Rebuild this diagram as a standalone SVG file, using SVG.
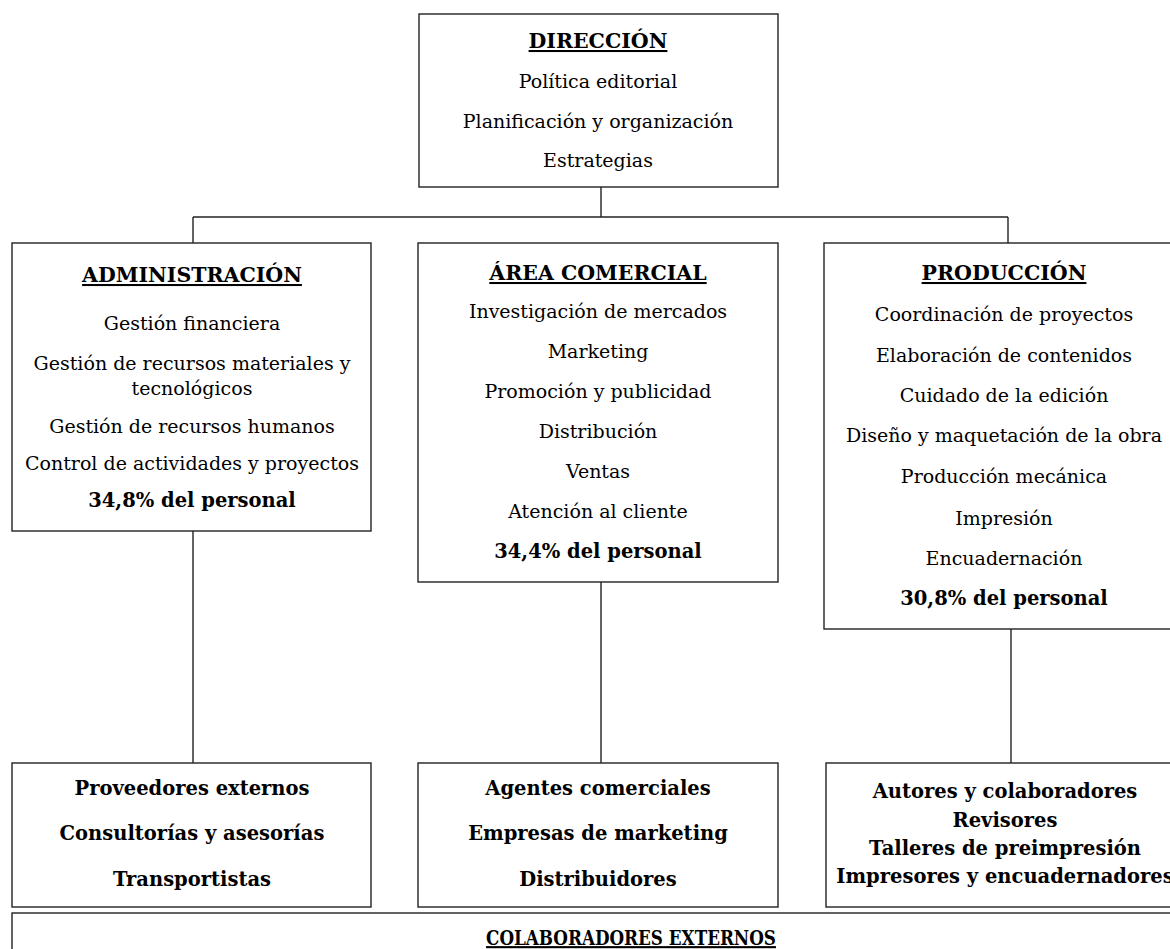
<svg xmlns="http://www.w3.org/2000/svg" width="1170" height="949" viewBox="0 0 1170 949">
<style>
rect{fill:#fff;stroke:#222;stroke-width:1.4}
.c line{stroke:#222;stroke-width:1.4}
text{font-family:"DejaVu Serif","Liberation Serif",serif;font-size:19px;fill:#000;text-anchor:middle}
.h{font-weight:bold;text-decoration:underline;font-size:20.5px}
.b{font-weight:bold;font-size:19.5px}
</style>
<rect width="1170" height="949" style="fill:#fff;stroke:none"/>
<g class="c">
<line x1="601" y1="187" x2="601" y2="217"/>
<line x1="193" y1="217" x2="1008" y2="217"/>
<line x1="193" y1="217" x2="193" y2="243"/>
<line x1="1008" y1="217" x2="1008" y2="243"/>
<line x1="193" y1="531" x2="193" y2="763"/>
<line x1="601" y1="582" x2="601" y2="763"/>
<line x1="1011" y1="629" x2="1011" y2="763"/>
</g>
<g id="direccion">
<rect x="419" y="14" width="359" height="173"/>
<text x="598" y="48" class="h">DIRECCIÓN</text>
<text x="598" y="88">Política editorial</text>
<text x="598" y="128">Planificación y organización</text>
<text x="598" y="167">Estrategias</text>
</g>
<g id="administracion">
<rect x="12" y="243" width="359" height="288"/>
<text x="192" y="282" class="h">ADMINISTRACIÓN</text>
<text x="192" y="330">Gestión financiera</text>
<text x="192" y="370">Gestión de recursos materiales y</text>
<text x="192" y="395">tecnológicos</text>
<text x="192" y="433">Gestión de recursos humanos</text>
<text x="192" y="470">Control de actividades y proyectos</text>
<text x="192" y="507" class="b">34,8% del personal</text>
</g>
<g id="comercial">
<rect x="418" y="243" width="360" height="339"/>
<text x="598" y="280" class="h">ÁREA COMERCIAL</text>
<text x="598" y="318">Investigación de mercados</text>
<text x="598" y="358">Marketing</text>
<text x="598" y="398">Promoción y publicidad</text>
<text x="598" y="438">Distribución</text>
<text x="598" y="478">Ventas</text>
<text x="598" y="518">Atención al cliente</text>
<text x="598" y="558" class="b">34,4% del personal</text>
</g>
<g id="produccion">
<rect x="824" y="243" width="360" height="386"/>
<text x="1004" y="280" class="h">PRODUCCIÓN</text>
<text x="1004" y="321">Coordinación de proyectos</text>
<text x="1004" y="362">Elaboración de contenidos</text>
<text x="1004" y="402">Cuidado de la edición</text>
<text x="1004" y="442">Diseño y maquetación de la obra</text>
<text x="1004" y="483">Producción mecánica</text>
<text x="1004" y="525">Impresión</text>
<text x="1004" y="565">Encuadernación</text>
<text x="1004" y="605" class="b">30,8% del personal</text>
</g>
<g id="ext-admin">
<rect x="12" y="763" width="359" height="144"/>
<text x="192" y="795" class="b">Proveedores externos</text>
<text x="192" y="840" class="b">Consultorías y asesorías</text>
<text x="192" y="886" class="b">Transportistas</text>
</g>
<g id="ext-comercial">
<rect x="418" y="763" width="360" height="144"/>
<text x="598" y="795" class="b">Agentes comerciales</text>
<text x="598" y="840" class="b">Empresas de marketing</text>
<text x="598" y="886" class="b">Distribuidores</text>
</g>
<g id="ext-produccion">
<rect x="826" y="763" width="360" height="144"/>
<text x="1005" y="798" class="b">Autores y colaboradores</text>
<text x="1005" y="827" class="b">Revisores</text>
<text x="1005" y="855" class="b">Talleres de preimpresión</text>
<text x="1005" y="883" class="b">Impresores y encuadernadores</text>
</g>
<g id="colaboradores">
<rect x="12" y="913" width="1238" height="80"/>
<text class="h" transform="translate(631 945) scale(0.8 1)" style="font-size:21px">COLABORADORES EXTERNOS</text>
</g>
</svg>
